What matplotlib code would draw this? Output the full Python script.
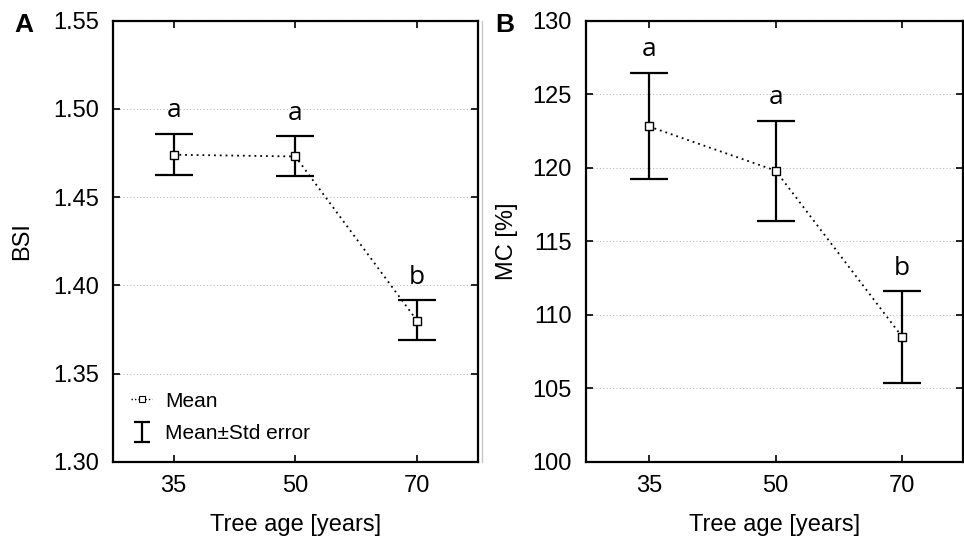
import matplotlib
matplotlib.use("Agg")
import matplotlib.pyplot as plt
from matplotlib.lines import Line2D
import numpy as np

ages = ["35", "50", "70"]
letters = ["a", "a", "b"]

bsi_mean = [1.474, 1.473, 1.380]
bsi_upper = [1.486, 1.4845, 1.3915]
bsi_lower = [1.4627, 1.4617, 1.3689]

mc_mean = [122.8, 119.8, 108.5]
mc_upper = [126.45, 123.2, 111.6]
mc_lower = [119.2, 116.4, 105.4]

plt.rcParams['font.family'] = ['Liberation Sans', 'DejaVu Sans']

W, H = 964, 548
fig = plt.figure(figsize=(W/100, H/100), dpi=100)
top, bot = 20.5, 462
axA = fig.add_axes([112.7/W, 1-bot/H, (478-112.7)/W, (bot-top)/H])
axB = fig.add_axes([585.7/W, 1-bot/H, (963-585.7)/W, (bot-top)/H])

def draw(ax, mean, upper, lower, ylim, yticks, ylabel, labx, xlim, legend=False):
    x = np.arange(len(ages))
    mean = np.array(mean); upper = np.array(upper); lower = np.array(lower)
    ax.plot(x, mean, linestyle=(0, (1, 2.2)), color='black', lw=1.3,
            marker='s', markersize=6, markerfacecolor='white',
            markeredgecolor='black', markeredgewidth=1.0, zorder=3)
    ax.errorbar(x, mean, yerr=[mean - lower, upper - mean], fmt='none',
                ecolor='black', elinewidth=1.6, capsize=13.7, capthick=1.6, zorder=2)
    for xi, tp, lt in zip(x, upper, letters):
        ax.annotate(lt, (xi, tp), xytext=(0, 12), textcoords='offset points',
                    ha='center', va='baseline', fontsize=19,
                    family=['Open Sans', 'DejaVu Sans'])
    ax.set_xlim(*xlim)
    ax.set_ylim(*ylim)
    ax.set_xticks(x)
    ax.set_xticklabels(ages)
    ax.set_yticks(yticks)
    ax.yaxis.grid(True, linestyle=(0, (1, 2)), color='#bbbbbb', lw=0.8)
    ax.set_axisbelow(True)
    ax.tick_params(direction='in', length=5, width=1.2, labelsize=17,
                   top=True, right=True)
    ax.tick_params(axis='x', pad=9)
    ax.tick_params(axis='y', pad=10)
    for sp in ax.spines.values():
        sp.set_linewidth(1.6)
    ax.set_xlabel("Tree age [years]", fontsize=17)
    ax.xaxis.set_label_coords(0.5, -0.118)
    ax.set_ylabel(ylabel, fontsize=17)
    ax.yaxis.set_label_coords(labx, 0.5)
    if legend:
        h1 = Line2D([0], [0], linestyle=(0, (1, 1.5)), color='black', lw=1.0,
                    marker='s', markersize=5, markerfacecolor='white',
                    markeredgecolor='black', markeredgewidth=0.8)
        eb = ax.errorbar([np.nan], [np.nan], yerr=[1], fmt='none', ecolor='black',
                         elinewidth=1.6, capsize=6, capthick=1.6)
        ax.legend([h1, eb], ["Mean", "Mean\u00b1Std error"], loc='lower left',
                  frameon=False, fontsize=15, handlelength=1.0, handletextpad=0.6,
                  labelspacing=0.65, bbox_to_anchor=(0.0, 0.0))

draw(axA, bsi_mean, bsi_upper, bsi_lower, (1.30, 1.55),
     [1.30, 1.35, 1.40, 1.45, 1.50, 1.55], "BSI", -0.218, (-0.5, 2.5), legend=True)
axA.set_yticklabels(["1.30", "1.35", "1.40", "1.45", "1.50", "1.55"])
draw(axB, mc_mean, mc_upper, mc_lower, (100, 130),
     [100, 105, 110, 115, 120, 125, 130], "MC [%]", -0.18, (-0.5, 2.48))

fig.text(24/W, 1-24.5/H, "A", fontsize=19, fontweight='bold', ha='center', va='center')
fig.text(505/W, 1-24.5/H, "B", fontsize=19, fontweight='bold', ha='center', va='center')
fig.add_artist(Line2D([482/W, 482/W], [1-bot/H, 1-top/H], color='#c8c8c8', lw=1.0,
                      transform=fig.transFigure))

fig.savefig("out.png", dpi=100)
